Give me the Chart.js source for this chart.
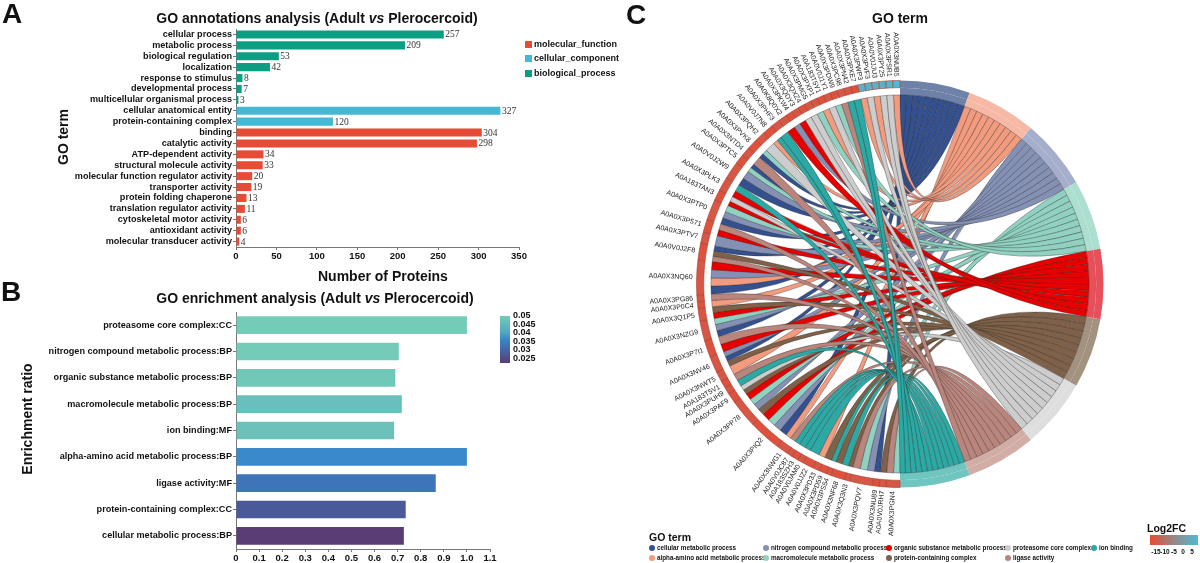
<!DOCTYPE html>
<html>
<head>
<meta charset="utf-8">
<title>GO analysis</title>
<script src="https://cdn.jsdelivr.net/npm/chart.js@4"></script>
<style>
  html, body { margin: 0; padding: 0; background: #fff; }
  #page { position: relative; width: 1200px; height: 563px; overflow: hidden; font-family: "Liberation Sans", Arial, sans-serif; color: #111; }
  #page canvas { position: absolute; }
  .txt { position: absolute; white-space: nowrap; font-weight: bold; line-height: 1; }
  .letter { font-size: 28px; }
  .title { font-size: 14px; transform: translateX(-50%); }
  .axis { font-size: 14px; }
  .rot { transform: translate(-50%, -50%) rotate(-90deg); }
  .small { font-size: 9px; }
  .tiny { font-size: 6.5px; transform: translateX(-50%); }
  .swatch { position: absolute; width: 7px; height: 7px; }
  .dot { position: absolute; width: 6px; height: 6px; border-radius: 50%; }
  .bar { position: absolute; }
</style>
</head>
<body>
<div id="page">
  <canvas id="chart-a" width="600" height="285" style="left:0;top:0"></canvas>
  <canvas id="chart-b" width="600" height="278" style="left:0;top:285px"></canvas>
  <canvas id="chart-c" width="560" height="558" style="left:620px;top:5px"></canvas>

  <div class="txt letter" style="left:2px;top:0">A</div>
  <div class="txt letter" style="left:1px;top:278px">B</div>
  <div class="txt letter" style="left:626px;top:1px">C</div>

  <div class="txt title" style="left:317px;top:11px">GO annotations analysis (Adult <i>vs</i> Plerocercoid)</div>
  <div class="txt title" style="left:315px;top:291px">GO enrichment analysis (Adult <i>vs</i> Plerocercoid)</div>
  <div class="txt title" style="left:900px;top:11px">GO term</div>

  <div class="txt axis" style="left:318px;top:269px">Number of Proteins</div>
  <div class="txt axis rot" style="left:63px;top:137px">GO term</div>
  <div class="txt axis rot" style="left:27px;top:419px">Enrichment ratio</div>

  <div id="legend-a"></div>
  <div id="legend-b"></div>
  <div id="legend-c"></div>
</div>

<script>
// panel A
const annotationTerms = [
  "cellular process", "metabolic process", "biological regulation", "localization",
  "response to stimulus", "developmental process", "multicellular organismal process",
  "cellular anatomical entity", "protein-containing complex", "binding", "catalytic activity",
  "ATP-dependent activity", "structural molecule activity", "molecular function regulator activity",
  "transporter activity", "protein folding chaperone", "translation regulator activity",
  "cytoskeletal motor activity", "antioxidant activity", "molecular transducer activity",
];
const annotationCounts = [257, 209, 53, 42, 8, 7, 3, 327, 120, 304, 298, 34, 33, 20, 19, 13, 11, 6, 6, 4];
const annotationGroups = ["bp", "bp", "bp", "bp", "bp", "bp", "bp", "cc", "cc", "mf", "mf", "mf", "mf", "mf", "mf", "mf", "mf", "mf", "mf", "mf"];
const groupNames = ["molecular_function", "cellular_component", "biological_process"];
const groupColors = { mf: "#e64b35", cc: "#45b8d6", bp: "#0a9f83" };

// panel B
const enrichTerms = [
  "proteasome core complex:CC", "nitrogen compound metabolic process:BP",
  "organic substance metabolic process:BP", "macromolecule metabolic process:BP", "ion binding:MF",
  "alpha-amino acid metabolic process:BP", "ligase activity:MF", "protein-containing complex:CC",
  "cellular metabolic process:BP",
];
const enrichRatios = [1.0, 0.705, 0.69, 0.718, 0.685, 1.0, 0.865, 0.735, 0.727];
const enrichColors = ["#74cbb8", "#74cbb8", "#70c8b9", "#69bfbb", "#6cc2ba", "#3a8acb", "#3d75b8", "#4a5a98", "#5a3d75"];
const pValueTicks = ["0.05", "0.045", "0.04", "0.035", "0.03", "0.025"];

// panel C: terms run clockwise from the top, genes clockwise from the bottom
const chordTermKeys = ["B", "A", "N", "M", "O", "P", "G", "L", "I"];
const chordTermNames = [
  "cellular metabolic process", "alpha-amino acid metabolic process", "nitrogen compound metabolic process",
  "macromolecule metabolic process", "organic substance metabolic process", "protein-containing complex",
  "proteasome core complex", "ligase activity", "ion binding",
];
const chordTermSizes = [20, 20, 20, 20, 20, 20, 20, 20, 20];
const ribbonColors = ["#34508f", "#f39b7f", "#8491b4", "#91d1c2", "#e60000", "#7e6148", "#cdcdcd", "#b9857c", "#2aa9a5"];
const termRingColors = ["#6e82a8", "#f6b9a6", "#a5aecb", "#acdfd0", "#e6505a", "#a39280", "#dedede", "#d1ada6", "#6fc5bf"];
const geneNames = [
  "A0A0X3PGN4", "A0A0V0JRH7", "A0A0X3NU89", "A0A0X3PQV7", "A0A0X3Q3N3", "A0A0X3NF68", "A0A0X3PS54", "A0A0X3PD59",
  "A0A0X3PD33", "A0A0V0JJZ2", "A0A0V0JAM0", "A0A183SZH3", "A0A0V0JC87", "A0A0X3NWG1", "A0A0X3PIQ2", "A0A0X3PP78",
  "A0A0X3PAF9", "A0A0X3PUH9", "A0A183T5V1", "A0A0X3NWT5", "A0A0X3NV46", "A0A0X3P7I1", "A0A0X3NZG9", "A0A0X3Q1P5",
  "A0A0X3P0C4", "A0A0X3PG86", "A0A0X3NQ60", "A0A0V0J2F8", "A0A0X3PTV7", "A0A0X3P571", "A0A0X3PTP0", "A0A183TAN3",
  "A0A0X3PLK3", "A0A0V0J2W9", "A0A0X3PTC5", "A0A0X3NTD4", "A0A0X3PVK8", "A0A0X3PQH2", "A0A0V0J7N8", "A0A0X3PHF3",
  "A0A0K8Q0X2", "A0A0X3PKW4", "A0A0X3QDY3", "A0A0X3QXZ4", "A0A0X3PMG5", "A0A0X3PXP1", "A0A183T5Y1", "A0A0V0J1Y1",
  "A0A0X3PDW9", "A0A0X3PC98", "A0A0X3PN42", "A0A0X3PXE7", "A0A0X3PWP3", "A0A0X3PVF3", "A0A0V0JJU3", "A0A0X3PY25",
  "A0A0X3PSR1", "A0A0X3NUB5",
];
const geneTerms = [
  "ML", "P", "B", "NML", "P", "IP", "I", "P",
  "A", "I", "I", "I", "I", "LA", "BNMO", "PNMO",
  "PG", "I", "L", "A", "PBN", "OL", "BNM", "OP",
  "A", "L", "BANO", "LPB", "N", "OL", "BNM", "OG",
  "OI", "BN", "MB", "L", "BM", "G", "AI", "I",
  "O", "N", "O", "G", "G", "M", "A", "G",
  "M", "L", "I", "I", "A", "G", "A", "G",
  "G", "A",
];
// width of each gene's arc on the ring, read in degrees
const geneArcWidths = [
  4, 1.9, 1.9, 6.6, 1.4, 4, 1.4, 2.2,
  2, 3, 1.7, 2, 1.5, 3.4, 9.4, 8,
  3, 1.9, 2.1, 2.9, 4.7, 4.8, 5.7, 3.5,
  2, 1.9, 9.9, 4.8, 3.2, 3.7, 6, 3,
  4, 5, 2.8, 2.7, 3, 3, 3, 2.5,
  2.5, 2, 2, 2, 2, 2, 2, 2,
  2, 2, 2, 2, 2, 2, 2, 2,
  2, 2,
];
const geneLog2FC = [
  -13, -13, -14, -13, -13, -14, -13, -14,
  -13, -14, -13, -14, -13, -13, -14, -13,
  -14, -13, -14, -13, -13, -14, -13, -13,
  -14, -13, -13, -14, -13, -14, -13, -14,
  -13, -13, -14, -13, -14, -13, -14, -13,
  -13, -14, -13, -14, -13, -13, -14, -13,
  -14, -13, -13, -14, 3, 3, 3, 3,
  4, 5,
];
const fcStops = [-15, -5, 5];
const fcStopColors = [[230, 75, 53], [150, 135, 135], [77, 187, 213]];
const fcTicks = ["-15", "-10", "-5", "0", "5"];

function fcColor(value) {
  const hi = value > fcStops[1] ? 1 : 0;
  const t = (value - fcStops[hi]) / (fcStops[hi + 1] - fcStops[hi]);
  const rgb = fcStopColors[hi].map((c, i) => Math.round(c + (fcStopColors[hi + 1][i] - c) * t));
  return `rgb(${rgb.join(",")})`;
}

const tickFont = { family: "'Liberation Sans'", weight: "bold", size: 9.1 };
const xTickFont = { family: "'Liberation Sans'", weight: "bold", size: 9.5 };

function axisFit(width, height) {
  return {
    x: (scale) => { scale.height = height; scale.paddingLeft = 0; scale.paddingRight = 0; },
    y: (scale) => { scale.width = width; scale.paddingTop = 0; scale.paddingBottom = 0; },
  };
}

// count labels at the end of panel A bars
const valueLabels = {
  id: "valueLabels",
  afterDatasetsDraw(chart) {
    const ctx = chart.ctx;
    const meta = chart.getDatasetMeta(0);
    ctx.save();
    ctx.font = "9.5px 'Liberation Serif'";
    ctx.fillStyle = "#333";
    ctx.textBaseline = "middle";
    meta.data.forEach((bar, i) => ctx.fillText(annotationCounts[i], bar.x + 1.5, bar.y + 0.5));
    ctx.restore();
  },
};

function barChart(id, labels, values, colors, thickness, xMax, xStep, fit, padding, extraPlugins, tickText) {
  return new Chart(document.getElementById(id), {
    type: "bar",
    data: {
      labels: labels,
      datasets: [{ data: values, backgroundColor: colors, barPercentage: thickness, categoryPercentage: 1 }],
    },
    plugins: extraPlugins,
    options: {
      indexAxis: "y",
      responsive: false,
      animation: false,
      layout: { padding: padding },
      plugins: { legend: { display: false }, title: { display: false }, tooltip: { enabled: false } },
      scales: {
        x: {
          min: 0,
          max: xMax,
          afterFit: fit.x,
          grid: { drawOnChartArea: false, tickLength: 3, color: "#777" },
          border: { color: "#777" },
          ticks: { stepSize: xStep, font: xTickFont, color: "#111", padding: 1, maxRotation: 0, callback: tickText },
        },
        y: {
          afterFit: fit.y,
          grid: { drawOnChartArea: false, offset: false, tickLength: 3, color: "#777" },
          border: { color: "#777" },
          ticks: { font: tickFont, color: "#111", padding: 1, autoSkip: false },
        },
      },
    },
  });
}

barChart("chart-a", annotationTerms, annotationCounts, annotationGroups.map((g) => groupColors[g]), 0.74,
  350, 50, axisFit(236, 18), { top: 29, right: 81, bottom: 20 }, [valueLabels], (v) => v);

barChart("chart-b", enrichTerms, enrichRatios, enrichColors, 0.67,
  1.1, 0.1, axisFit(236, 18), { top: 27, right: 110, bottom: -4 }, [], (v) => (v === 0 ? "0" : v.toFixed(1)));

// ribbons and gene labels, placed from the doughnut's own arcs
const chordRibbons = {
  id: "chordRibbons",
  afterDatasetsDraw(chart) {
    const ctx = chart.ctx;
    const termCount = chordTermKeys.length;
    const outerArcs = chart.getDatasetMeta(0).data;
    const innerArcs = chart.getDatasetMeta(1).data;
    const cx = outerArcs[0].x;
    const cy = outerArcs[0].y;
    const r = innerArcs[0].innerRadius;
    const R = outerArcs[0].outerRadius;

    const strands = chordTermKeys.map(() => []);
    geneTerms.forEach((terms, g) => {
      const arc = outerArcs[termCount + g];
      const step = (arc.endAngle - arc.startAngle) / terms.length;
      terms.split("").forEach((key, k) => {
        strands[chordTermKeys.indexOf(key)].push([arc.startAngle + k * step, arc.startAngle + (k + 1) * step]);
      });
    });

    ctx.save();
    strands.forEach((list, t) => {
      const arc = innerArcs[t];
      const step = (arc.endAngle - arc.startAngle) / list.length;
      list.forEach((gene, i) => {
        const t0 = arc.startAngle + i * step;
        const t1 = t0 + step;
        ctx.beginPath();
        ctx.arc(cx, cy, r, gene[0], gene[1]);
        ctx.quadraticCurveTo(cx, cy, cx + r * Math.cos(t0), cy + r * Math.sin(t0));
        ctx.arc(cx, cy, r, t0, t1);
        ctx.quadraticCurveTo(cx, cy, cx + r * Math.cos(gene[0]), cy + r * Math.sin(gene[0]));
        ctx.closePath();
        ctx.fillStyle = ribbonColors[t];
        ctx.fill();
        ctx.lineWidth = 0.5;
        ctx.strokeStyle = "rgba(40,40,40,0.7)";
        ctx.stroke();
      });
    });

    ctx.font = "7px 'Liberation Sans'";
    ctx.fillStyle = "#222";
    ctx.textAlign = "right";
    ctx.textBaseline = "middle";
    geneNames.forEach((name, g) => {
      const arc = outerArcs[termCount + g];
      const mid = (arc.startAngle + arc.endAngle) / 2;
      ctx.save();
      ctx.translate(cx + (R + 4) * Math.cos(mid), cy + (R + 4) * Math.sin(mid));
      ctx.rotate(mid - Math.PI);
      ctx.fillText(name, 0, 0);
      ctx.restore();
    });
    ctx.restore();
  },
};

const geneColors = geneLog2FC.map(fcColor);

new Chart(document.getElementById("chart-c"), {
  type: "doughnut",
  data: {
    labels: chordTermNames.concat(geneNames),
    datasets: [
      {
        data: chordTermSizes.concat(geneArcWidths),
        backgroundColor: termRingColors.concat(geneColors),
        borderWidth: chordTermSizes.map(() => 0).concat(geneArcWidths.map(() => 0.6)),
        borderColor: "#a8402e",
      },
      {
        data: chordTermSizes.concat(geneArcWidths),
        backgroundColor: termRingColors.concat(geneArcWidths.map(() => "rgba(0,0,0,0)")),
        borderWidth: 0,
      },
    ],
  },
  plugins: [chordRibbons],
  options: {
    responsive: false,
    animation: false,
    radius: 203.5,
    cutout: "92.9%",
    plugins: { legend: { display: false }, title: { display: false }, tooltip: { enabled: false } },
  },
});

// html legends
function addText(parent, cls, text, left, top) {
  const el = document.createElement("div");
  el.className = "txt " + cls;
  el.textContent = text;
  el.style.left = left + "px";
  el.style.top = top + "px";
  parent.appendChild(el);
}
function addBox(parent, cls, color, left, top, width, height) {
  const el = document.createElement("div");
  el.className = cls;
  el.style.background = color;
  el.style.left = left + "px";
  el.style.top = top + "px";
  if (width) el.style.width = width + "px";
  if (height) el.style.height = height + "px";
  parent.appendChild(el);
}

const legendA = document.getElementById("legend-a");
["mf", "cc", "bp"].forEach((g, i) => {
  const y = 40.5 + i * 14.6;
  addBox(legendA, "swatch", groupColors[g], 525, y);
  addText(legendA, "small", groupNames[i], 534, y - 1);
});

const legendB = document.getElementById("legend-b");
addBox(legendB, "bar", "linear-gradient(#74cbb8, #4fa8c0 35%, #3a86cb 50%, #4a5a98 80%, #5a3d75)", 500, 316, 10, 47);
pValueTicks.forEach((t, i) => addText(legendB, "small", t, 513, 311 + i * 8.5));

const legendC = document.getElementById("legend-c");
addText(legendC, "", "GO term", 649, 532);
legendC.lastChild.style.fontSize = "10.5px";
const legendOrder = [0, 2, 4, 6, 8, 1, 3, 5, 7];
const legendX = [652, 766, 889, 1008, 1094, 652, 766, 889, 1008];
legendOrder.forEach((t, i) => {
  const y = i < 5 ? 545 : 555;
  addBox(legendC, "dot", ribbonColors[t], legendX[i] - 3, y);
  addText(legendC, "small", chordTermNames[t], legendX[i] + 5, y);
  legendC.lastChild.style.fontSize = "6.3px";
});
addText(legendC, "", "Log2FC", 1147, 523);
legendC.lastChild.style.fontSize = "10.5px";
addBox(legendC, "bar", `linear-gradient(to right, ${fcStopColors.map((c) => `rgb(${c.join(",")})`).join(",")})`, 1150, 535, 48, 10);
fcTicks.forEach((t, i) => addText(legendC, "tiny", t, 1156 + i * 9, 549));
</script>
</body>
</html>
